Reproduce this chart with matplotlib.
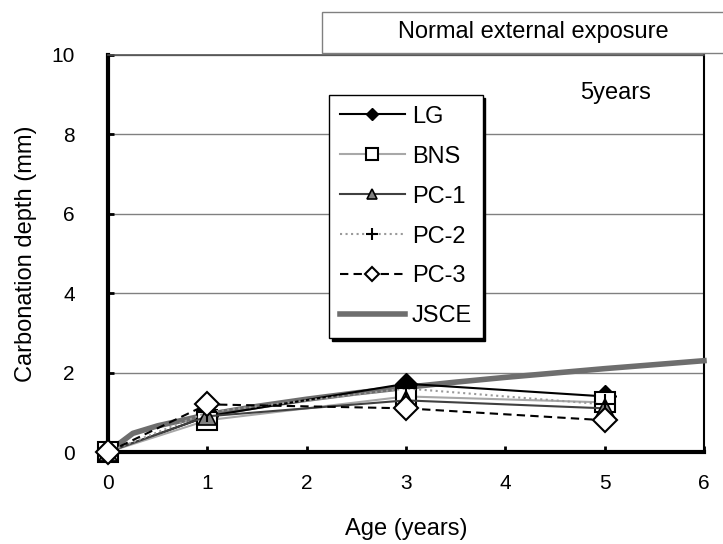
import matplotlib
matplotlib.use("Agg")
import matplotlib.pyplot as plt
from matplotlib.patches import Rectangle

plt.rcParams["font.family"] = ["Liberation Sans", "DejaVu Sans"]

# measured ages (years)
ages = [0, 1, 3, 5]
lg = [0.0, 0.9, 1.72, 1.4]
bns = [0.0, 0.8, 1.4, 1.25]
pc1 = [0.0, 0.9, 1.3, 1.1]
pc2 = [0.0, 1.0, 1.6, 1.2]
pc3 = [0.0, 1.2, 1.1, 0.8]

# JSCE prediction curve
jsce_age = [0, 0.25, 0.5, 1, 1.5, 2, 2.5, 3, 3.5, 4, 4.5, 5, 5.5, 6]
jsce = [0.0, 0.47, 0.66, 0.94, 1.15, 1.33, 1.49, 1.63, 1.76, 1.88, 1.99, 2.10, 2.20, 2.30]

fig = plt.figure(figsize=(7.23, 5.44), dpi=100)
ax = fig.add_axes([0.1494, 0.1691, 0.8243, 0.7298])

ax.plot(jsce_age, jsce, color="#6e6e6e", lw=4, label="JSCE", zorder=3, clip_on=False)

ax.plot(ages, lg, color="black", lw=1.5, marker="D", ms=11,
        mfc="black", mec="black", label="LG", zorder=4, clip_on=False)
ax.plot(ages, bns, color="#a8a8a8", lw=1.5, marker="s", ms=14,
        mfc="white", mec="black", mew=1.5, label="BNS", zorder=4, clip_on=False)
ax.plot(ages, pc1, color="#404040", lw=1.5, marker="^", ms=13,
        mfc="#808080", mec="black", mew=1.2, label="PC-1", zorder=4, clip_on=False)
ax.plot(ages, pc2, color="#9a9a9a", lw=1.5, ls=":", marker="+", ms=14,
        mec="black", mew=1.5, label="PC-2", zorder=4, clip_on=False)
ax.plot(ages, pc3, color="black", lw=1.5, ls=(0, (4, 2.5)), marker="D", ms=12,
        mfc="white", mec="black", mew=1.5, label="PC-3", zorder=5, clip_on=False)

ax.set_xlim(0, 6)
ax.set_ylim(0, 10)
ax.set_xticks(range(0, 7))
ax.set_yticks(range(0, 11, 2))
ax.yaxis.grid(True, color="#808080", lw=1)
ax.set_axisbelow(True)

ax.tick_params(axis="both", direction="in", labelsize=15, length=4, width=2)
ax.tick_params(axis="y", pad=24)
ax.tick_params(axis="x", pad=16)
ax.tick_params(right=False, top=False)

ax.spines["left"].set_linewidth(3)
ax.spines["bottom"].set_linewidth(3)
ax.spines["right"].set_linewidth(1.5)
ax.spines["top"].set_linewidth(1.2)
ax.spines["top"].set_color("#505050")

ax.set_xlabel("Age (years)", fontsize=17, labelpad=18)
ax.set_ylabel("Carbonation depth (mm)", fontsize=17, labelpad=10)

ax.text(4.75, 9.05, "5years", fontsize=17, ha="left", va="center")

handles, labels = ax.get_legend_handles_labels()
order = ["LG", "BNS", "PC-1", "PC-2", "PC-3", "JSCE"]
hmap = dict(zip(labels, handles))
leg = ax.legend([hmap[k] for k in order], order, loc="upper left",
                bbox_to_anchor=(0.371, 0.899), fontsize=17, frameon=True,
                fancybox=False, edgecolor="black", framealpha=1,
                shadow={"color": "black", "alpha": 1},
                markerscale=0.6, handlelength=2.75, labelspacing=0.76,
                borderpad=0.45, handletextpad=0.3, borderaxespad=0)
leg.get_frame().set_linewidth(1)
leg.set_zorder(10)

# title box at top right
fig.patches.append(Rectangle((322 / 723, 1 - 53 / 544), 0.6, 41 / 544,
                             transform=fig.transFigure, facecolor="white",
                             edgecolor="#808080", lw=1))
fig.text(533 / 723, 1 - 32 / 544, "Normal external exposure", fontsize=17,
         ha="center", va="center")

fig.savefig("out.png", dpi=100)
